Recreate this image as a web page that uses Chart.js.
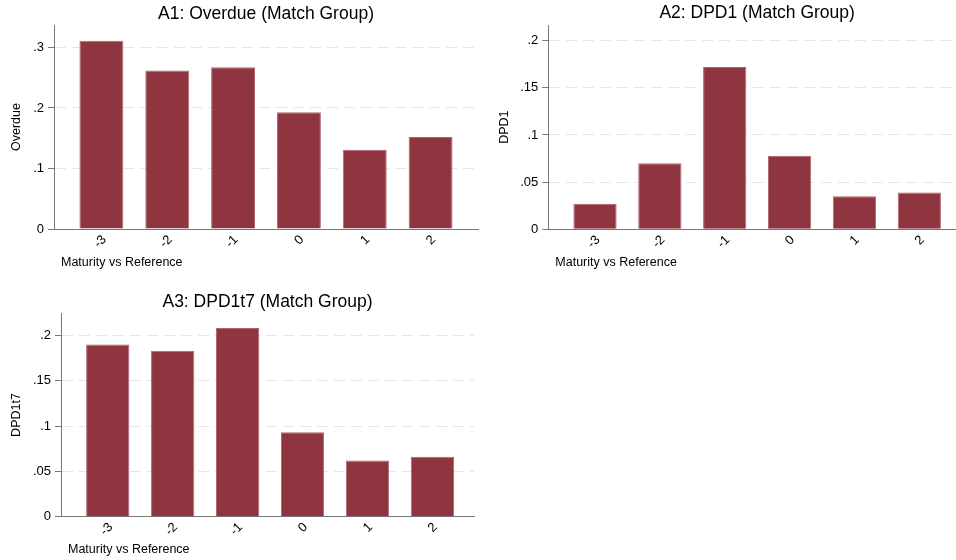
<!DOCTYPE html>
<html>
<head>
<meta charset="utf-8">
<script src="https://cdn.jsdelivr.net/npm/chart.js@4.4.1/dist/chart.umd.min.js"></script>
<style>
  html, body { margin: 0; padding: 0; background: #fff; width: 956px; height: 560px; overflow: hidden; }
  .panel { position: absolute; }
  canvas { display: block; }
</style>
</head>
<body>
<div class="panel" style="left:0px;top:0px"><canvas id="a1" width="480" height="280"></canvas></div>
<div class="panel" style="left:490px;top:0px"><canvas id="a2" width="478" height="280"></canvas></div>
<div class="panel" style="left:0px;top:285px"><canvas id="a3" width="480" height="275"></canvas></div>
<script>
// Maturity relative to the reference date (x categories)
const maturity = [-3, -2, -1, 0, 1, 2];

// Mean outcome by maturity bucket, match group
const overdue = [0.311, 0.262, 0.267, 0.193, 0.131, 0.152];
const dpd1    = [0.027, 0.070, 0.172, 0.078, 0.035, 0.039];
const dpd1t7  = [0.190, 0.183, 0.208, 0.093, 0.062, 0.066];

// Y-axis tick values per panel
const overdueTicks = [0, 0.1, 0.2, 0.3];
const dpd1Ticks    = [0, 0.05, 0.1, 0.15, 0.2];
const dpd1t7Ticks  = [0, 0.05, 0.1, 0.15, 0.2];

const xTitle = 'Maturity vs Reference';
const FONT = '"Liberation Sans", Arial, Helvetica, sans-serif';
const BAR = '#8f3540';
const BAR_EDGE = '#b0666e';
const AXIS = '#777777';
const GRID = '#e6e6e6';

// Panel geometry (canvas-relative pixels)
const panels = [
  { id: 'a1', title: 'A1: Overdue (Match Group)', yLabel: 'Overdue', values: overdue, ticks: overdueTicks,
    yMax: 0.337, areaLeft: 54, areaRight: 478, xMin: -3.72, xMax: 2.72,
    titlePad: { top: 3.5, bottom: 0.5 }, yTitlePad: 9.5, xScaleHeight: 51, xTitleY: 263 },
  { id: 'a2', title: 'A2: DPD1 (Match Group)', yLabel: 'DPD1', values: dpd1, ticks: dpd1Ticks,
    yMax: 0.2166, areaLeft: 58.3, areaRight: 476, xMin: -3.72, xMax: 2.72,
    titlePad: { top: 3, bottom: 1 }, yTitlePad: 7.5, xScaleHeight: 50.7, xTitleY: 263 },
  { id: 'a3', title: 'A3: DPD1t7 (Match Group)', yLabel: 'DPD1t7', values: dpd1t7, ticks: dpd1t7Ticks,
    yMax: 0.2243, areaLeft: 61, areaRight: 474, xMin: -3.72, xMax: 2.64,
    titlePad: { top: 6.2, bottom: 1.1 }, yTitlePad: 9.2, xScaleHeight: 43.3, xTitleY: 265 }
];

const fmtY = v => (v === 0 ? '0' : String(+v.toFixed(4)).replace(/^0\./, '.').replace(/^-0\./, '-.'));

// Left-aligned x-axis caption, inset slightly from the plot's left edge
const xCaption = {
  id: 'xCaption',
  afterDraw(chart, args, opts) {
    const { ctx, chartArea } = chart;
    ctx.save();
    ctx.font = '12.5px ' + FONT;
    ctx.fillStyle = '#000';
    ctx.textAlign = 'left';
    ctx.textBaseline = 'middle';
    ctx.fillText(opts.text, chartArea.left + 7, opts.y);
    ctx.restore();
  }
};

panels.forEach(p => {
  const canvas = document.getElementById(p.id);
  new Chart(canvas, {
    type: 'bar',
    data: {
      datasets: [{
        data: maturity.map((m, i) => ({ x: m, y: p.values[i] })),
        backgroundColor: BAR,
        borderColor: BAR_EDGE,
        borderWidth: 1,
        barPercentage: 0.667,
        categoryPercentage: 1
      }]
    },
    options: {
      responsive: false,
      animation: false,
      devicePixelRatio: 1,
      layout: { padding: { left: 0, top: 0, bottom: 0, right: canvas.width - p.areaRight } },
      plugins: {
        legend: { display: false },
        tooltip: { enabled: false },
        title: {
          display: true, text: p.title, color: '#000', fullSize: false,
          font: { family: FONT, size: 17.5, weight: 'normal' },
          padding: p.titlePad
        },
        xCaption: { text: xTitle, y: p.xTitleY }
      },
      scales: {
        x: {
          type: 'linear',
          offset: false,
          min: p.xMin, max: p.xMax,
          afterBuildTicks: s => { s.ticks = maturity.map(v => ({ value: v })); },
          afterFit: s => { s.height = p.xScaleHeight; },
          grid: { display: false, drawTicks: false, offset: false },
          border: { display: true, color: AXIS, width: 1 },
          ticks: {
            color: '#000', font: { family: FONT, size: 13 },
            minRotation: 45, maxRotation: 45, padding: 3, labelOffset: 3,
            autoSkip: false,
            callback: v => String(v)
          }
        },
        y: {
          min: 0, max: p.yMax,
          afterBuildTicks: s => { s.ticks = p.ticks.map(v => ({ value: v })); },
          afterFit: s => { s.width = p.areaLeft; },
          grid: {
            color: GRID, lineWidth: 1, drawTicks: true, tickLength: 6,
            tickColor: AXIS, tickWidth: 1, tickBorderDash: []
          },
          border: { display: true, color: AXIS, width: 1, dash: [11, 6] },
          ticks: {
            color: '#000', font: { family: FONT, size: 13 }, padding: 4,
            callback: v => fmtY(v)
          },
          title: {
            display: true, text: p.yLabel, color: '#000',
            font: { family: FONT, size: 12.5 },
            padding: { top: p.yTitlePad, bottom: 0 }
          }
        }
      }
    },
    plugins: [xCaption]
  });
});
</script>
</body>
</html>
